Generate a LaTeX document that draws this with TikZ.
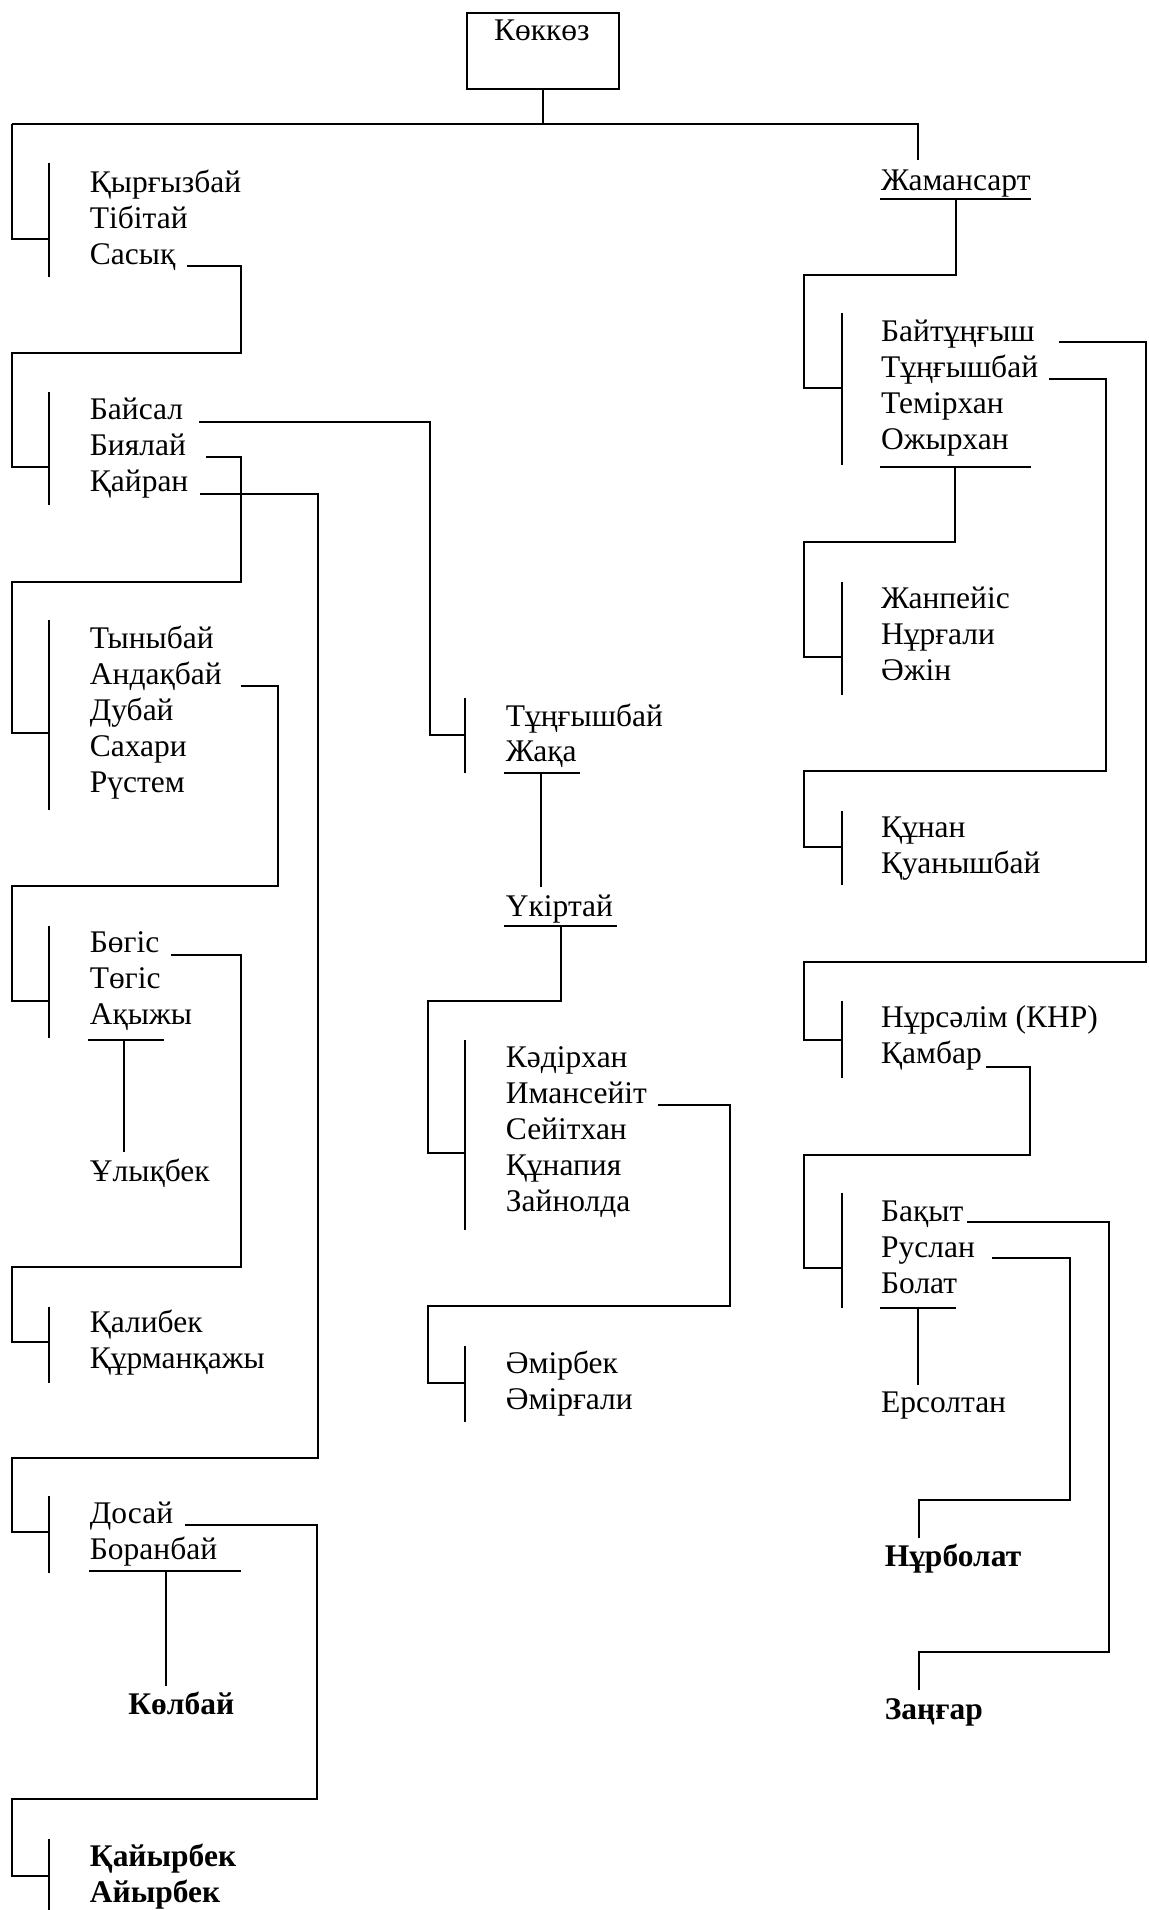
\documentclass[tikz,border=0pt]{standalone}
\usepackage{fontspec}
\setmainfont{Liberation Serif}
\newcommand\nmf{\fontsize{31.5}{38}\selectfont}
\newcommand\nmfb{\fontsize{31.5}{38}\selectfont\bfseries}
\begin{document}
\begin{tikzpicture}[x=1.2185pt,y=-1.2185pt,line width=2pt,
  nm/.style={anchor=base west,inner sep=0pt,font=\nmf},
  nmb/.style={anchor=base west,inner sep=0pt,font=\nmfb},
  conn/.style={line width=2pt},
  brk/.style={line width=2pt}]
\useasboundingbox (0,0) rectangle (943,1568);
% ---------- root ----------
\node[draw,line width=2pt,anchor=north west,minimum width=151.6pt,minimum height=76.6pt,inner sep=0pt] (root) at (382.6,9.6) {};
\node[font=\nmf,anchor=base,inner sep=0pt] (rootlbl) at (444.8,33.4) {Көккөз};
\coordinate (barL) at (9.5,101.8);
\coordinate (barR) at (753.9,101.8);
\draw[conn] (root.south) -- (root.south |- barL);
\draw[conn] (barL) -- (barR) -- ++(0,29.2);
% ---------- left column ----------
\coordinate (gA) at (40,196);
\draw[brk] (40,134) -- (40,227);
\draw[conn] (barL) |- (gA);
\node[nm] (kyr) at (73,158) {Қырғызбай};
\node[nm] (tib) at (73,187.5) {Тібітай};
\node[nm] (sas) at (73,217) {Сасық};

\coordinate (gB) at (40,383);
\draw[brk] (40,321.5) -- (40,414.5);
\draw[conn] ([shift={(9,1)}]sas.base east) -| (198,290) -- (9.5,290) |- (gB);
\node[nm] (bai) at (73,344.7) {Байсал};
\node[nm] (biy) at (73,374.2) {Биялай};
\node[nm] (qai) at (73,403.8) {Қайран};

\coordinate (gC) at (40,602);
\draw[brk] (40,509) -- (40,665);
\draw[conn] ([shift={(16,1.2)}]biy.base east) -| (198,477.6) -- (9.5,477.6) |- (gC);
\node[nm] (tyn) at (73,532.6) {Тыныбай};
\node[nm] (and) at (73,562) {Андақбай};
\node[nm] (dub) at (73,591.5) {Дубай};
\node[nm] (sah) at (73,621) {Сахари};
\node[nm] (rus) at (73,650.5) {Рүстем};

\coordinate (gD) at (40,821.5);
\draw[brk] (40,760) -- (40,852);
\draw[conn] ([shift={(15,1)}]and.base east) -| (228,727) -- (9.5,727) |- (gD);
\node[nm] (beg) at (73,782) {Бөгіс};
\node[nm] (teg) at (73,811.5) {Төгіс};
\node[nm] (aqy) at (73,841) {Ақыжы};
\draw[conn] (72,854) -- (135,854);
\node[nm] (uly) at (73,970) {Ұлықбек};
\draw[conn] (102,854) -- (102,946);

\coordinate (gE) at (40,1102);
\draw[brk] (40,1073) -- (40,1135);
\draw[conn] ([shift={(9,2)}]beg.base east) -| (198,1040) -- (9.5,1040) |- (gE);
\node[nm] (qal) at (73,1094) {Қалибек};
\node[nm] (qur) at (73,1123.5) {Құрманқажы};

\coordinate (gF) at (40,1258);
\draw[brk] (40,1228) -- (40,1291);
\draw[conn] ([shift={(9,1.5)}]qai.base east) -| (261,1197) -- (9.5,1197) |- (gF);
\node[nm] (dos) at (73,1250.7) {Досай};
\node[nm] (bor) at (73,1280.2) {Боранбай};
\draw[conn] (73,1290) -- (198,1290);
\node[nmb] (kol) at (104.6,1407.5) {Көлбай};
\draw[conn] (136,1290) -- (136,1384.5);

\coordinate (gG) at (40,1540);
\draw[brk] (40,1510) -- (40,1568);
\draw[conn] ([shift={(9,1.5)}]dos.base east) -| (260,1477) -- (9.5,1477) |- (gG);
\node[nmb] (qay) at (73,1532) {Қайырбек};
\node[nmb] (ayy) at (73,1561.5) {Айырбек};
% ---------- middle column ----------
\coordinate (gT) at (382,603);
\draw[brk] (382,572.6) -- (382,634.5);
\draw[conn] ([shift={(12,2)}]bai.base east) -| (353,603) -- (gT);
\node[nm] (tun) at (414.5,596.6) {Тұңғышбай};
\node[nm] (zha) at (414.5,625) {Жақа};
\draw[conn] (414,634.6) -- (476,634.6);
\draw[conn] (444.5,634.6) -- (444.5,728);
\node[nm] (ukr) at (414.5,752.5) {Үкіртай};
\draw[conn] (414,760) -- (506.5,760);

\coordinate (gK) at (382,946.5);
\draw[brk] (382,853.5) -- (382,1009.5);
\draw[conn] (460.5,760) -- (460.5,822) -- (351,822) |- (gK);
\node[nm] (kad) at (414.5,876.6) {Кәдірхан};
\node[nm] (ima) at (414.5,906.1) {Имансейіт};
\node[nm] (sey) at (414.5,935.6) {Сейітхан};
\node[nm] (qun) at (414.5,965.1) {Құнапия};
\node[nm] (zai) at (414.5,994.6) {Зайнолда};

\coordinate (gM) at (382,1135);
\draw[brk] (382,1105) -- (382,1167);
\draw[conn] ([shift={(8.5,1.4)}]ima.base east) -| (599,1072.5) -- (351,1072.5) |- (gM);
\node[nm] (emb) at (414.5,1127.6) {Әмірбек};
\node[nm] (emg) at (414.5,1157.1) {Әмірғали};
% ---------- right column ----------
\node[nm] (zhm) at (722.5,156) {Жамансарт};
\draw[conn] (722.5,163.3) -- (846,163.3);

\coordinate (gR1) at (691,318.7);
\draw[brk] (691,257) -- (691,381.6);
\draw[conn] (784.6,163.3) -- (784.6,225.7) -- (659.8,225.7) |- (gR1);
\node[nm] (bty) at (722.5,280.4) {Байтұңғыш};
\node[nm] (tgb) at (722.5,310) {Тұңғышбай};
\node[nm] (tem) at (722.5,339.5) {Темірхан};
\node[nm] (ozh) at (722.5,369) {Ожырхан};
\draw[conn] (722.5,383) -- (846,383);

\coordinate (gR2) at (691,539.5);
\draw[brk] (691,477.5) -- (691,570.4);
\draw[conn] (784.3,383) -- (784.3,444.6) -- (659.8,444.6) |- (gR2);
\node[nm] (zhp) at (722.5,499.4) {Жанпейіс};
\node[nm] (nrg) at (722.5,529) {Нұрғали};
\node[nm] (azh) at (722.5,558.6) {Әжін};

\coordinate (gR3) at (691,695);
\draw[brk] (691,665.6) -- (691,726.6);
\draw[conn] ([shift={(8.5,1)}]tgb.base east) -| (908,632.7) -- (659.8,632.7) |- (gR3);
\node[nm] (qnn) at (722.5,687.5) {Құнан};
\node[nm] (qua) at (722.5,717.3) {Қуанышбай};

\coordinate (gR4) at (691,853.5);
\draw[brk] (691,822) -- (691,884.7);
\draw[conn] ([shift={(19,0.5)}]bty.base east) -| (940.4,790) -- (659.8,790) |- (gR4);
\node[nm] (nrs) at (722.5,843.9) {Нұрсәлім (КНР)};
\node[nm] (qam) at (722.5,873.4) {Қамбар};

\coordinate (gR5) at (691,1040.8);
\draw[brk] (691,979) -- (691,1073.6);
\draw[conn] ([shift={(3,2.5)}]qam.base east) -| (845.7,948) -- (659.8,948) |- (gR5);
\node[nm] (baq) at (722.5,1002.8) {Бақыт};
\node[nm] (rsl) at (722.5,1032.3) {Руслан};
\node[nm] (bol) at (722.5,1061.8) {Болат};
\draw[conn] (722.5,1073.8) -- (785.2,1073.8);
\draw[conn] (753.9,1073.8) -- (753.9,1136.6);
\node[nm] (ers) at (722.5,1159.8) {Ерсолтан};

\draw[conn] ([shift={(13,0.5)}]rsl.base east) -| (878.3,1231) -- (754.5,1231) -- (754.5,1262.4);
\node[nmb] (nrb) at (725.5,1285.8) {Нұрболат};
\draw[conn] ([shift={(2,0.5)}]baq.base east) -| (910.6,1356.3) -- (754.5,1356.3) -- (754.5,1387);
\node[nmb] (zan) at (725.5,1411.6) {Заңғар};
\end{tikzpicture}
\end{document}
